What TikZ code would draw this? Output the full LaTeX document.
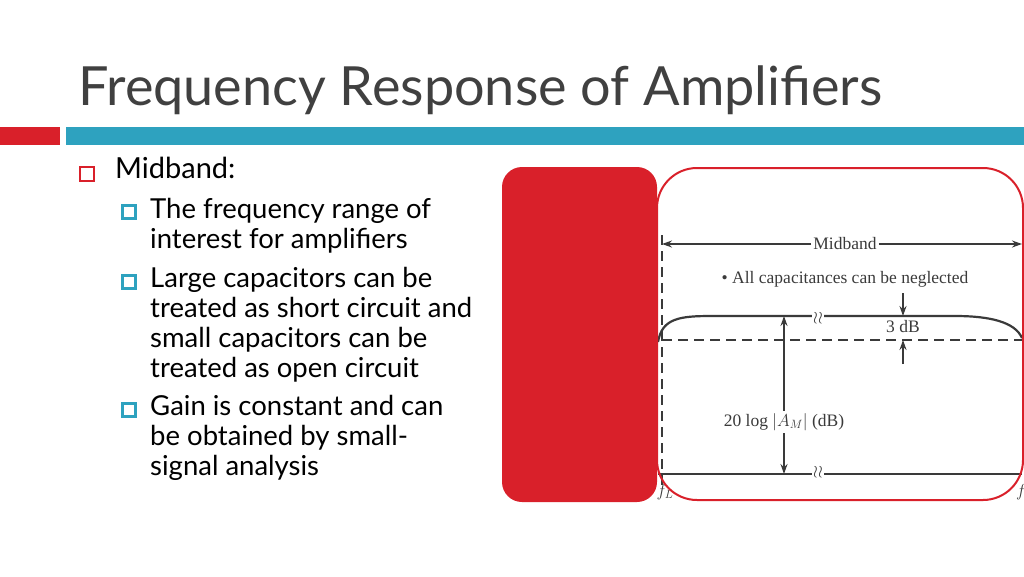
\documentclass[tikz,border=0pt]{standalone}
\usepackage{fontspec}
\setmainfont{Lato}
\newfontfamily\plotfont{Liberation Serif}
\usetikzlibrary{arrows.meta}
\definecolor{slidered}{HTML}{D9202A}
\definecolor{slideteal}{HTML}{2EA2BF}
\definecolor{plotgray}{HTML}{3A3A3A}
\tikzset{
  plotline/.style = {draw = plotgray, line width = 2.2pt},
  plotdash/.style = {plotline, line width = 1.6pt, dash pattern = on 10pt off 6pt},
  plotlabel/.style = {font = \plotfont\fontsize{17.5}{20}\selectfont, text = plotgray, inner sep = 2pt},
  bodytext/.style = {font = \fontsize{27.5}{30}\selectfont, anchor = north west, align = left, inner sep = 0pt},
  subbullet/.style = {draw = slideteal, fill = white, line width = 3.5pt, minimum size = 13pt, inner sep = 0pt}
}
\begin{document}
\begin{tikzpicture}[x = 1pt, y = -1pt]
            \useasboundingbox (0, 0) rectangle (1024, 576);
            % title and header bars
            \node [anchor = west, inner sep = 0pt, font = \fontsize{54}{60}\selectfont, text = black!75] (title) at (78, 90) {Frequency Response of Amplifiers};
            \fill [slidered] (0, 127) rectangle (60, 145);
            \fill [slideteal] (66, 127) rectangle (1024, 145);
            % bullet list
            \node [draw = slidered, line width = 1.2pt, minimum size = 14pt, inner sep = 0pt] (b0) at (87, 174) {};
            \node [bodytext, font = \fontsize{29}{30}\selectfont] (midband) at (115, 157) {Midband:};
            \node [subbullet] (b1) at (129, 212) {};
            \node [bodytext] (t1) at (150, 198) {The frequency range of\\interest for amplifiers};
            \node [subbullet] (b2) at (129, 282) {};
            \node [bodytext] (t2) at (150, 267) {Large capacitors can be\\treated as short circuit and\\small capacitors can be\\treated as open circuit};
            \node [subbullet] (b3) at (129, 410) {};
            \node [bodytext] (t3) at (150, 395) {Gain is constant and can\\be obtained by small-\\signal analysis};
            % red panel and frame
            \fill [slidered, rounded corners = 20] (502, 167) rectangle (657, 502);
            % plot
            \draw [plotdash] (662, 235) -- (662, 490);
            \draw [plotdash] (662, 340) -- (1022, 340);
            \draw [plotline] (658, 474) -- (1022, 474);
            \draw [plotline] (658, 342) .. controls (662, 318) and (680, 316) .. (712, 316) -- (955, 316) .. controls (990, 316) and (1015, 322) .. (1022, 338);
            \node [plotlabel, fill = white] (mid) at (845, 244) {Midband};
            \draw [plotline, line width = 1.6pt, -{Stealth[length = 10pt, width = 7pt]}] (mid.west) -- (662, 244);
            \draw [plotline, line width = 1.6pt, -{Stealth[length = 10pt, width = 7pt]}] (mid.east) -- (1022, 244);
            \node [plotlabel] (caps) at (845, 279) {\textbullet\ All capacitances can be neglected};
            \coordinate (top) at (784, 316);
            \coordinate (bot) at (784, 474);
            \draw [plotline, line width = 1.6pt, {Stealth[length = 10pt, width = 7pt]}-{Stealth[length = 10pt, width = 7pt]}] (top) -- (bot);
            \node [plotlabel, fill = white] (gain) at (784, 422) {20 log $|A_M|$ (dB)};
            \draw [plotline, line width = 1.6pt, -{Stealth[length = 10pt, width = 7pt]}] (903, 293) -- (903, 316);
            \draw [plotline, line width = 1.6pt, -{Stealth[length = 10pt, width = 7pt]}] (903, 364) -- (903, 340);
            \node [plotlabel] (db) at (903, 327) {3 dB};
            \node [plotlabel, fill = white, inner sep = 1pt] (brk1) at (818, 318) {$\wr\wr$};
            \node [plotlabel, fill = white, inner sep = 1pt] (brk2) at (818, 472) {$\wr\wr$};
            \node [plotlabel] (fl) at (665, 492) {$f_L$};
            \node [plotlabel, anchor = west] (fh) at (1014, 492) {$f_H$};
            \draw [slidered, line width = 2pt, rounded corners = 40] (657, 168) rectangle (1023, 500);
        \end{tikzpicture}
\end{document}
